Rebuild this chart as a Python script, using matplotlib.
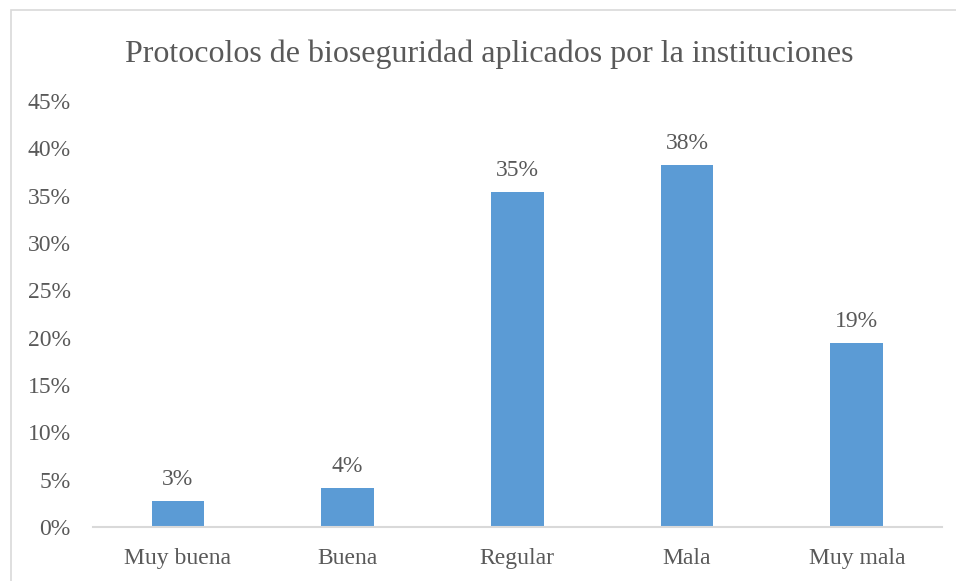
import matplotlib.pyplot as plt
from matplotlib.patches import Rectangle

categorias = ['Muy buena', 'Buena', 'Regular', 'Mala', 'Muy mala']
porcentajes = [2.7, 4.1, 35.4, 38.2, 19.4]
etiquetas = ['3%', '4%', '35%', '38%', '19%']
ticks = [0, 5, 10, 15, 20, 25, 30, 35, 40, 45]

plt.rcParams['font.family'] = ['Liberation Serif', 'DejaVu Serif']
gris = '#595959'

fig = plt.figure(figsize=(9.56, 5.81), dpi=100)
ax = fig.add_axes([0.0973, 0.093, 0.8877, 0.733])

x = range(len(categorias))
bars = ax.bar(x, porcentajes, width=0.31, color='#5B9BD5')
for b, t in zip(bars, etiquetas):
    ax.annotate(t, (b.get_x() + b.get_width() / 2, b.get_height()),
                xytext=(0, 8), textcoords='offset points',
                ha='center', va='bottom', fontsize=17, color=gris)

ax.set_xlim(-0.5, len(categorias) - 0.5)
ax.set_ylim(0, 45)
ax.set_yticks(ticks)
ax.set_yticklabels([f'{t}%' for t in ticks])
ax.set_xticks(list(x))
ax.set_xticklabels(categorias)
ax.tick_params(axis='both', length=0, labelsize=17, colors=gris)
ax.tick_params(axis='y', pad=16)
ax.tick_params(axis='x', pad=15)
for s in ['top', 'right', 'left']:
    ax.spines[s].set_visible(False)
ax.spines['bottom'].set_color('#D9D9D9')
ax.spines['bottom'].set_linewidth(1.5)

fig.text(0.512, 0.906, 'Protocolos de bioseguridad aplicados por la instituciones',
         ha='center', va='center', fontsize=23, color=gris)

fig.patches.append(Rectangle((11 / 956, -0.1), 1.1, 1 - 10 / 581 + 0.1,
                             transform=fig.transFigure, fill=False,
                             edgecolor='#D9D9D9', linewidth=1.2))

fig.savefig('out.png', dpi=100)
